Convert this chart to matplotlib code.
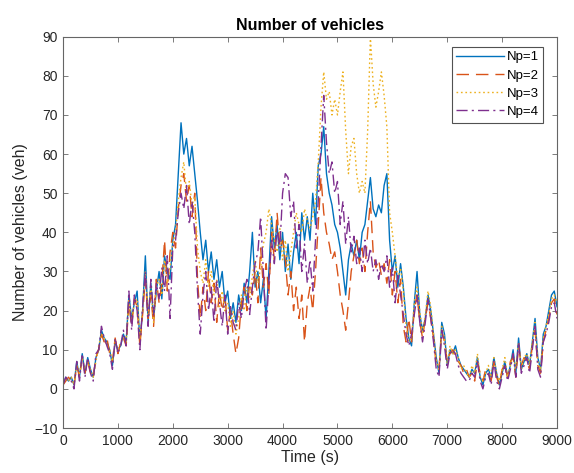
import numpy as np
import matplotlib
matplotlib.use("Agg")
import matplotlib.pyplot as plt

plt.rcParams['font.family'] = ['Liberation Sans', 'DejaVu Sans']

# sampling every 50 s, 0 .. 9000
time_s = np.arange(0, 9001, 50)

np1 = [1, 3, 2, 3, 1, 7, 3, 9, 4, 8,
       5, 3, 8, 10, 15, 13, 12, 10, 6, 12,
       10, 11, 14, 12, 24, 18, 22, 25, 12, 20,
       34, 17, 27, 18, 25, 30, 23, 34, 30, 28,
       38, 42, 55, 68, 60, 64, 57, 62, 55, 48,
       40, 33, 38, 30, 35, 28, 33, 26, 30, 22,
       25, 18, 22, 17, 24, 20, 27, 22, 30, 40,
       26, 30, 22, 28, 18, 30, 44, 36, 42, 33,
       40, 30, 37, 28, 35, 40, 32, 45, 38, 44,
       38, 50, 42, 57, 60, 67, 55, 50, 47, 42,
       40, 36, 30, 24, 33, 37, 34, 38, 33, 40,
       42, 48, 54, 46, 44, 47, 45, 52, 55, 38,
       30, 34, 26, 32, 26, 18, 13, 11, 22, 30,
       19, 15, 18, 24, 20, 14, 8, 4, 17, 14,
       6, 10, 9, 11, 8, 6, 5, 4, 3, 5,
       4, 8, 3, 1, 4, 5, 3, 8, 4, 1,
       4, 7, 3, 6, 10, 4, 13, 5, 7, 9,
       6, 12, 18, 8, 5, 14, 16, 20, 24, 25,
       21]

np2 = [1, 2, 3, 2, 1, 6, 3, 8, 4, 7,
       4, 3, 8, 10, 14, 12, 13, 9, 7, 13,
       9, 12, 13, 11, 22, 16, 23, 21, 11, 19,
       28, 18, 24, 16, 28, 22, 27, 38, 25, 35,
       40, 36, 46, 52, 55, 48, 52, 44, 50, 28,
       18, 26, 20, 30, 22, 27, 17, 25, 20, 24,
       15, 20, 14, 9, 13, 22, 26, 20, 27, 24,
       30, 22, 36, 26, 32, 24, 40, 33, 45, 36,
       38, 33, 24, 30, 20, 26, 18, 24, 12, 22,
       26, 20, 30, 42, 54, 45, 40, 37, 33, 35,
       30, 24, 20, 15, 22, 30, 34, 38, 32, 36,
       30, 40, 48, 35, 31, 33, 29, 32, 27, 33,
       24, 30, 22, 28, 16, 12, 18, 12, 20, 24,
       17, 13, 18, 22, 18, 13, 6, 5, 15, 12,
       7, 9, 10, 8, 7, 6, 4, 5, 3, 4,
       2, 7, 4, 2, 5, 4, 2, 7, 3, 1,
       5, 6, 3, 7, 8, 3, 11, 6, 8, 7,
       5, 11, 15, 6, 4, 12, 15, 18, 22, 23,
       19]

np3 = [1, 3, 2, 3, 1, 6, 4, 8, 5, 7,
       5, 3, 7, 11, 14, 13, 11, 10, 7, 12,
       10, 12, 13, 12, 23, 17, 22, 23, 13, 20,
       30, 19, 26, 17, 26, 28, 24, 33, 27, 31,
       37, 40, 48, 54, 58, 50, 53, 47, 49, 36,
       30, 27, 33, 26, 30, 24, 28, 21, 25, 20,
       22, 16, 20, 14, 18, 24, 20, 26, 23, 29,
       33, 27, 31, 37, 40, 46, 42, 38, 35, 41,
       33, 38, 30, 35, 40, 45, 42, 40, 46, 43,
       41, 44, 48, 58, 72, 81, 74, 76, 70, 74,
       70, 76, 81, 66, 55, 62, 64, 55, 50, 53,
       50, 66, 90, 78, 72, 76, 81, 75, 67, 45,
       40, 34, 28, 31, 25, 16, 12, 13, 22, 26,
       20, 14, 19, 25, 21, 14, 7, 5, 16, 13,
       6, 11, 9, 10, 8, 5, 6, 4, 3, 6,
       4, 9, 3, 2, 4, 6, 3, 8, 4, 2,
       5, 8, 3, 6, 9, 5, 12, 5, 8, 9,
       6, 12, 17, 7, 5, 13, 16, 19, 23, 24,
       22]

np4 = [1, 3, 2, 2, 0, 7, 2, 9, 3, 8,
       4, 2, 9, 10, 16, 13, 11, 9, 5, 13,
       9, 11, 15, 11, 25, 15, 24, 20, 10, 21,
       30, 16, 28, 19, 27, 23, 31, 25, 34, 18,
       36, 38, 45, 50, 46, 52, 42, 48, 40, 25,
       14, 24, 30, 20, 26, 17, 28, 22, 16, 24,
       14, 21, 17, 15, 22, 18, 25, 28, 19, 26,
       32, 35, 44, 30, 15, 27, 38, 32, 41, 36,
       50, 55, 54, 44, 48, 36, 42, 30, 37, 27,
       33, 25, 38, 48, 62, 75, 63, 55, 58, 50,
       53, 42, 48, 37, 44, 35, 39, 32, 36, 30,
       38, 32, 36, 30, 33, 28, 32, 30, 34, 26,
       31, 22, 29, 24, 19, 14, 11, 14, 19, 24,
       17, 12, 17, 23, 18, 12, 5, 3, 15, 11,
       5, 9, 10, 9, 6, 4, 3, 2, 2, 4,
       3, 7, 2, 0, 3, 4, 1, 7, 2, 0,
       3, 6, 2, 5, 9, 3, 12, 4, 6, 8,
       4, 10, 16, 5, 3, 12, 14, 17, 21, 22,
       18]

labels = ['Np=1', 'Np=2', 'Np=3', 'Np=4']
colors = ['#0072BD', '#D95319', '#EDB120', '#7E2F8E']
# MATLAB-like dash patterns (in units of linewidth)
dashes = [None, (9, 5), (1.2, 2), (8, 3, 1.5, 3)]

fig = plt.figure(figsize=(5.74, 4.73), dpi=100)
ax = fig.add_axes([0.1098, 0.0951, 0.8606, 0.8273])

for series, lab, col, ds in zip([np1, np2, np3, np4], labels, colors, dashes):
    line, = ax.plot(time_s, series, color=col, linewidth=1.0, label=lab)
    if ds is not None:
        line.set_dashes(ds)

ax.set_xlim(0, 9000)
ax.set_ylim(-10, 90)
ax.set_xticks(range(0, 9001, 1000))
ax.set_yticks(range(-10, 91, 10))

axis_col = '#262626'
for sp in ax.spines.values():
    sp.set_color('#666666')
    sp.set_linewidth(0.8)
ax.tick_params(direction='in', top=True, right=True, length=3.5, width=0.6,
               color='#666666', labelcolor=axis_col, labelsize=10, pad=4)

ax.set_title('Number of vehicles', fontsize=11.5, fontweight='bold', color='black', pad=5)
ax.set_xlabel('Time (s)', fontsize=11.5, color=axis_col, labelpad=2)
ax.set_ylabel('Number of vehicles (veh)', fontsize=11.5, color=axis_col, labelpad=4)

leg = ax.legend(loc='upper right', bbox_to_anchor=(0.98, 0.985), fontsize=9.5,
                frameon=True, fancybox=False, handlelength=3.6, handletextpad=0.2,
                borderpad=0.35, labelspacing=0.45, borderaxespad=0.3)
leg.get_frame().set_edgecolor('#262626')
leg.get_frame().set_linewidth(0.8)

fig.savefig('out.png', dpi=100)
